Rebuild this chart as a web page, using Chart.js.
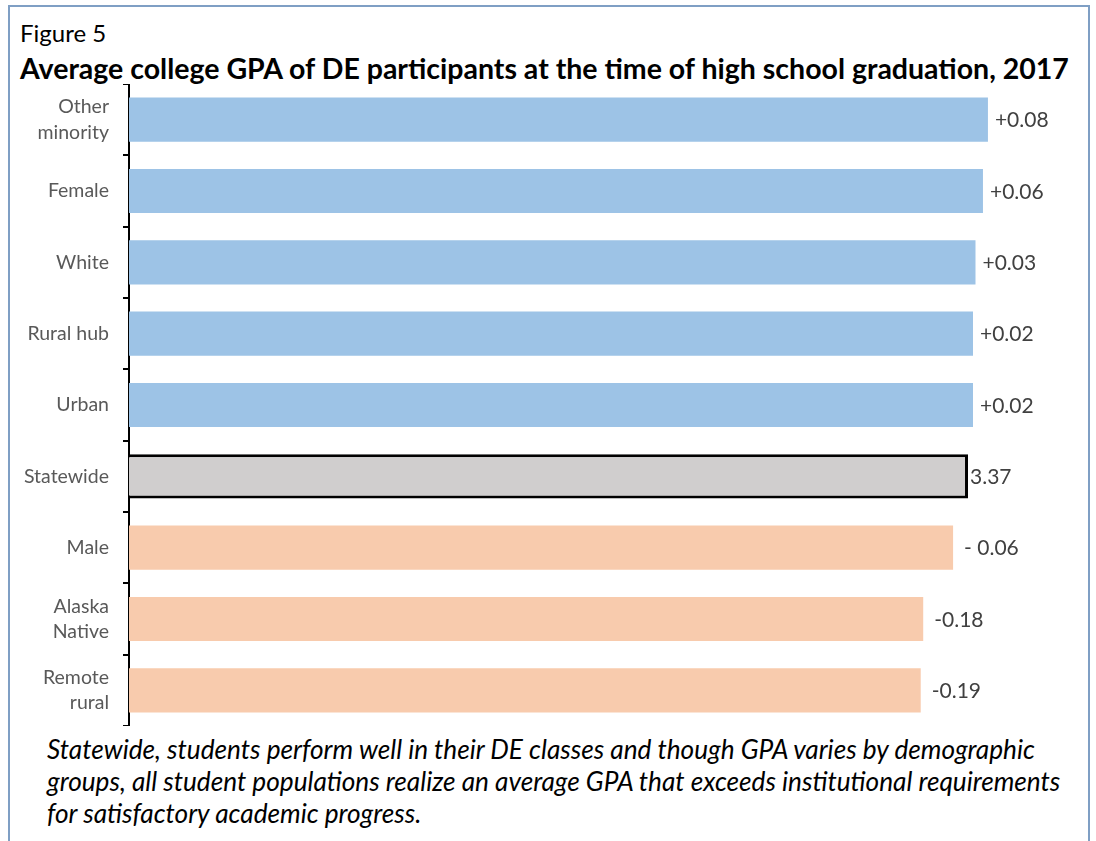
<!DOCTYPE html>
<html>
<head>
<meta charset="utf-8">
<script src="https://cdn.jsdelivr.net/npm/chart.js@4.4.1/dist/chart.umd.min.js"></script>
<style>
  html, body { margin: 0; padding: 0; background: #fff; }
  body { width: 1096px; height: 841px; position: relative; overflow: hidden; font-family: Lato, "Open Sans", sans-serif; }
  #frame { position: absolute; left: 8px; top: 5px; width: 1078px; height: 900px; border: 2px solid #7f9fc4; }
  #fig { position: absolute; left: 20px; top: 18px; font-size: 24px; color: #000; }
  #title { position: absolute; left: 20px; top: 51px; font-size: 28.5px; font-weight: bold; color: #000; white-space: nowrap; }
  #wrap { position: absolute; left: 0; top: 84px; width: 1096px; height: 642px; }
  #note { position: absolute; left: 47px; top: 733px; width: 1045px; font-size: 26.2px; font-style: italic; line-height: 32px; color: #000; white-space: nowrap; }
</style>
</head>
<body>
<div id="frame"></div>
<div id="fig">Figure 5</div>
<div id="title">Average college GPA of DE participants at the time of high school graduation, 2017</div>
<div id="wrap"><canvas id="gpaChart"></canvas></div>
<div id="note">Statewide, students perform well in their DE classes and though GPA varies by demographic<br>groups, all student populations realize an average GPA that exceeds institutional requirements<br>for satisfactory academic progress.</div>
<script>
const groups = [["Other", "minority"], "Female", "White", "Rural hub", "Urban", "Statewide", "Male", ["Alaska", "Native"], ["Remote", "rural"]];
const gpa = [3.45, 3.43, 3.40, 3.39, 3.39, 3.37, 3.31, 3.19, 3.18];
const gapLabels = ["+0.08", "+0.06", "+0.03", "+0.02", "+0.02", "3.37", "- 0.06", "-0.18", "-0.19"];

const barColors = gpa.map((v, i) => i < 5 ? "#9dc3e6" : (i === 5 ? "#d0cece" : "#f8cbad"));

const valueLabels = {
  id: "valueLabels",
  afterDatasetsDraw(chart) {
    const ctx = chart.ctx;
    const meta = chart.getDatasetMeta(0);
    ctx.save();
    ctx.font = "21px Lato, 'Open Sans', sans-serif";
    ctx.fillStyle = "#404040";
    ctx.textBaseline = "middle";
    meta.data.forEach((bar, i) => {
      const gap = i === 5 ? 2 : (i > 5 ? 11 : 7);
      ctx.fillText(gapLabels[i], bar.x + gap, bar.y + 1);
    });
    ctx.restore();
  }
};

const ctx = document.getElementById("gpaChart").getContext("2d");

new Chart(ctx, {
  type: "bar",
  data: {
    labels: groups,
    datasets: [
      {
        data: gpa,
        backgroundColor: barColors,
        borderColor: gpa.map((v, i) => i === 5 ? "#000" : "rgba(0,0,0,0)"),
        borderWidth: gpa.map((v, i) => i === 5 ? 3 : 0),
        barPercentage: 0.62,
        categoryPercentage: 1,
      },
    ],
  },
  options: {
    indexAxis: "y",
    responsive: true,
    maintainAspectRatio: false,
    animation: false,
    layout: { padding: { left: 0, right: 62, top: 0, bottom: 0 } },
    plugins: {
      legend: { display: false },
      tooltip: { enabled: false },
    },
    scales: {
      x: {
        display: false,
        min: 0,
        max: 3.635,
      },
      y: {
        afterFit: (scale) => {
          scale.width = 129;
          scale.paddingTop = 0;
          scale.paddingBottom = 0;
        },
        border: { display: true, color: "#000", width: 2 },
        grid: {
          offset: true,
          drawOnChartArea: false,
          drawTicks: true,
          tickLength: 6,
          color: "#000",
          lineWidth: 2,
        },
        ticks: {
          color: "#595959",
          padding: 14,
          font: { family: "Lato, 'Open Sans', sans-serif", size: 19.5, lineHeight: 1.3 },
        },
      },
    },
  },
  plugins: [valueLabels],
});
</script>
</body>
</html>
